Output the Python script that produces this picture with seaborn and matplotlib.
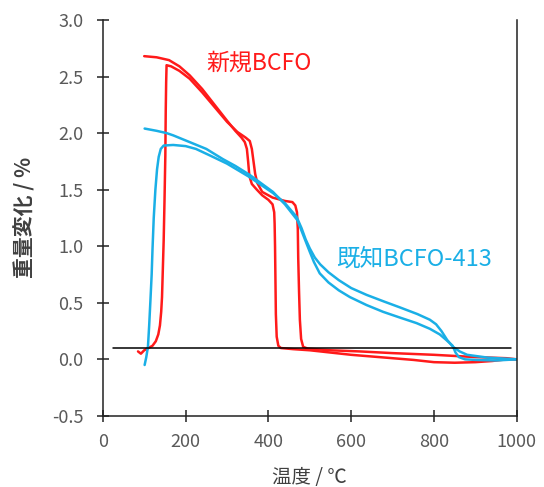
import matplotlib

matplotlib.use("Agg")
import matplotlib.pyplot as plt
import pandas as pd
import seaborn as sns

sns.set_theme(style="ticks")
plt.rcParams["font.family"] = ["Noto Sans CJK JP", "DejaVu Sans"]
plt.rcParams["axes.unicode_minus"] = False

# Red sample (新規BCFO): heating then cooling, temperature / weight change
red_heat_t = [85, 92, 100, 110, 120, 128, 134, 138, 141, 143, 145, 147, 149, 151, 152, 153, 154,
              165, 185, 210, 240, 270, 300, 325, 345, 355, 360, 364, 368, 373, 385, 410, 440,
              458, 465, 469, 471, 472, 474, 476, 479, 484, 495, 550, 620, 700, 800, 900, 975, 1000]
red_heat_w = [0.07, 0.05, 0.08, 0.10, 0.12, 0.16, 0.22, 0.30, 0.42, 0.55, 0.80, 1.05, 1.40, 1.80,
              2.20, 2.45, 2.60, 2.59, 2.55, 2.48, 2.36, 2.23, 2.10, 2.01, 1.96, 1.93, 1.86, 1.75,
              1.64, 1.56, 1.48, 1.43, 1.40, 1.39, 1.36, 1.30, 1.15, 0.90, 0.60, 0.35, 0.18, 0.11,
              0.095, 0.08, 0.07, 0.055, 0.04, 0.02, 0.01, 0.0]
red_cool_t = [1000, 975, 940, 900, 850, 800, 750, 700, 650, 600, 550, 500, 460, 430, 424, 420,
              418, 417, 416, 415, 414, 410, 400, 385, 372, 360, 354, 351, 348, 343, 335, 320,
              300, 270, 240, 210, 185, 160, 130, 100]
red_cool_w = [0.0, 0.0, -0.015, -0.025, -0.03, -0.025, -0.005, 0.01, 0.025, 0.04, 0.06, 0.08,
              0.09, 0.10, 0.12, 0.20, 0.40, 0.70, 1.00, 1.20, 1.30, 1.37, 1.41, 1.45, 1.50, 1.55,
              1.62, 1.75, 1.86, 1.92, 1.96, 2.02, 2.11, 2.25, 2.39, 2.51, 2.59, 2.645, 2.67, 2.68]

# Blue sample (既知BCFO-413)
blue_heat_t = [101, 105, 109, 112, 115, 118, 120, 123, 127, 131, 135, 140, 147, 170, 200, 225,
               260, 300, 355, 411, 440, 468, 480, 490, 500, 512, 525, 545, 570, 600, 637, 680,
               717, 760, 790, 805, 818, 832, 846, 862, 880, 930, 1000]
blue_heat_w = [-0.05, 0.02, 0.11, 0.30, 0.52, 0.75, 0.97, 1.25, 1.50, 1.68, 1.79, 1.86, 1.89,
               1.895, 1.885, 1.86, 1.80, 1.73, 1.61, 1.47, 1.38, 1.26, 1.16, 1.06, 0.98, 0.90,
               0.84, 0.77, 0.70, 0.63, 0.57, 0.51, 0.46, 0.40, 0.35, 0.31, 0.25, 0.17, 0.11,
               0.07, 0.04, 0.015, 0.0]
blue_cool_t = [1000, 950, 900, 875, 860, 852, 845, 830, 814, 790, 758, 717, 677, 637, 597, 570,
               545, 524, 510, 500, 485, 470, 440, 411, 355, 320, 290, 250, 210, 170, 154, 130, 101]
blue_cool_w = [0.0, -0.01, -0.005, 0.0, 0.02, 0.06, 0.12, 0.17, 0.22, 0.27, 0.32, 0.37, 0.42,
               0.48, 0.55, 0.61, 0.68, 0.76, 0.86, 0.95, 1.09, 1.23, 1.37, 1.48, 1.63, 1.71, 1.77,
               1.86, 1.92, 1.98, 2.0, 2.02, 2.04]

# Reference baseline
base_t = [25, 985]
base_w = [0.1, 0.1]

red_color = "#FF1A1A"
blue_color = "#1AAFE6"

fig = plt.figure(figsize=(5.44, 4.87), dpi=100)
ax = fig.add_axes([0.189, 0.146, 0.761, 0.813])

for t, w, c in [
    (red_heat_t, red_heat_w, red_color),
    (red_cool_t, red_cool_w, red_color),
    (blue_heat_t, blue_heat_w, blue_color),
    (blue_cool_t, blue_cool_w, blue_color),
]:
    df = pd.DataFrame({"t": t, "w": w})
    sns.lineplot(data=df, x="t", y="w", ax=ax, sort=False, estimator=None,
                 color=c, linewidth=1.8)

sns.lineplot(x=base_t, y=base_w, ax=ax, sort=False, estimator=None,
             color="black", linewidth=1.1)

ax.text(250, 2.62, "新規BCFO", color=red_color, fontsize=16.5, ha="left", va="center")
ax.text(563, 0.89, "既知BCFO-413", color=blue_color, fontsize=17, ha="left", va="center")

ax.set_xlim(0, 1000)
ax.set_ylim(-0.5, 3.0)
ax.set_xticks(range(0, 1001, 200))
ax.set_yticks([-0.5, 0.0, 0.5, 1.0, 1.5, 2.0, 2.5, 3.0])
ax.set_yticklabels([f"{v:.1f}" for v in ax.get_yticks()])
ax.tick_params(direction="inout", length=8, width=1.1, colors="#222222",
               labelcolor="#595959", labelsize=13)
ax.tick_params(axis="y", pad=10)
ax.tick_params(axis="x", pad=8)

ax.set_xlabel("温度 / ℃", fontsize=14, color="#404040", labelpad=12)
ax.set_ylabel("重量変化 / %", fontsize=15, color="#404040", fontweight="bold", labelpad=12)

ax.spines["top"].set_visible(False)
for side in ["left", "bottom", "right"]:
    ax.spines[side].set_color("#222222")
    ax.spines[side].set_linewidth(1.1)

fig.savefig("out.png", dpi=100)
